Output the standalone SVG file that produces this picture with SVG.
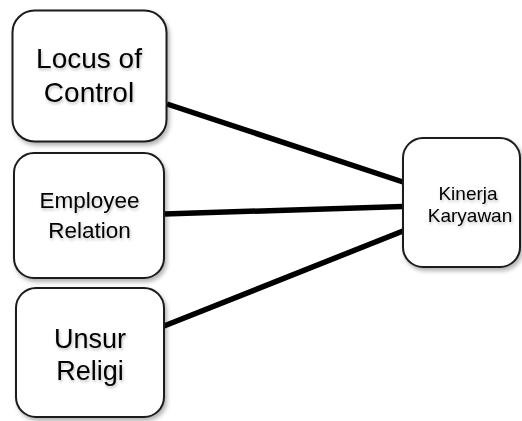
<svg xmlns="http://www.w3.org/2000/svg" width="522" height="421" viewBox="0 0 522 421">
  <defs>
    <filter id="shadow" x="-10%" y="-10%" width="130%" height="130%">
      <feDropShadow dx="2" dy="3" stdDeviation="2" flood-color="#000" flood-opacity="0.3"/>
    </filter>
    <filter id="tshadow" x="-10%" y="-20%" width="120%" height="150%">
      <feDropShadow dx="1" dy="2" stdDeviation="1.5" flood-color="#000" flood-opacity="0.25"/>
    </filter>
  </defs>
  <style>
    .box { fill: #ffffff; stroke: #1a1a1a; stroke-width: 2; filter: url(#shadow); }
    .lbl { font-family: "Liberation Sans", Arial, sans-serif; fill: #000; text-anchor: middle; filter: url(#tshadow); }
    .big { font-size: 28px; }
    .big2 { font-size: 27px; }
    .mid { font-size: 22.5px; }
    .sm { font-size: 19px; }
    .conn { stroke: #000; stroke-width: 5.5; fill: none; stroke-linecap: butt; }
  </style>
  <rect width="522" height="421" fill="#ffffff"/>
  <g id="connectors">
    <line class="conn" x1="167" y1="104" x2="403" y2="182"/>
    <line class="conn" x1="164" y1="214" x2="403" y2="206.5"/>
    <line class="conn" x1="164" y1="326" x2="403" y2="231"/>
  </g>
  <g id="locus-of-control">
    <rect class="box" x="12.5" y="10.5" width="154" height="131" rx="22" ry="22"/>
    <text class="lbl big" x="89" y="68">Locus of</text>
    <text class="lbl big" x="89" y="102">Control</text>
  </g>
  <g id="employee-relation">
    <rect class="box" x="14" y="153" width="150" height="125" rx="20" ry="20"/>
    <text class="lbl mid" x="89.5" y="208">Employee</text>
    <text class="lbl mid" x="89.5" y="238">Relation</text>
  </g>
  <g id="unsur-religi">
    <rect class="box" x="16" y="288" width="148" height="129" rx="20" ry="20"/>
    <text class="lbl big2" x="90" y="348">Unsur</text>
    <text class="lbl big2" x="90" y="380">Religi</text>
  </g>
  <g id="kinerja-karyawan">
    <rect class="box" x="403" y="138" width="117" height="129" rx="20" ry="20"/>
    <text class="lbl sm" x="468" y="200">Kinerja</text>
    <text class="lbl sm" x="470" y="222">Karyawan</text>
  </g>
</svg>
